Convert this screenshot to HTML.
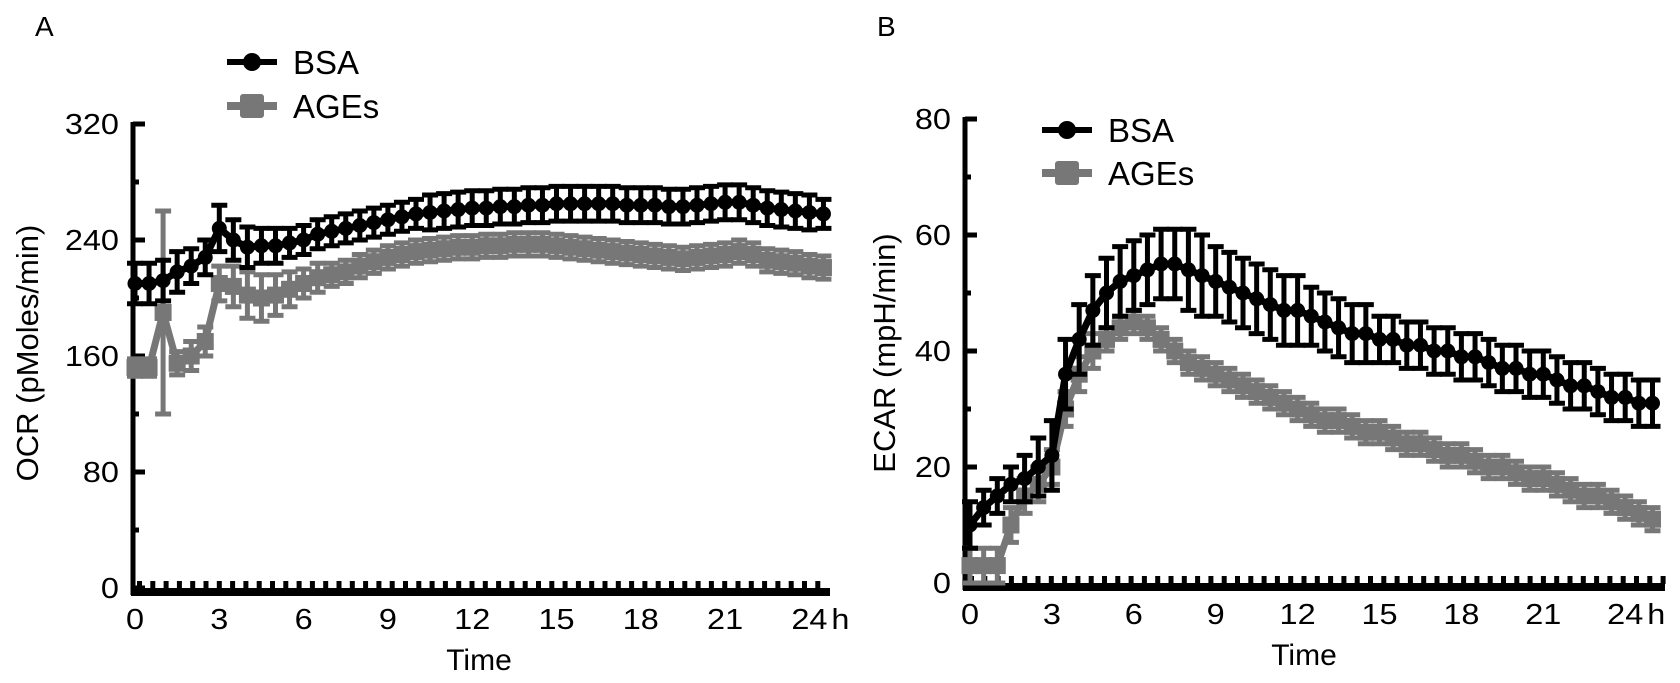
<!DOCTYPE html>
<html><head><meta charset="utf-8"><style>
html,body{margin:0;padding:0;background:#fff;}
svg{display:block;font-family:"Liberation Sans",Arial,sans-serif;}
</style></head><body>
<svg id="fig" width="1680" height="683" viewBox="0 0 1680 683">
<text x="35" y="36" font-size="28">A</text>
<text x="877" y="36" font-size="28">B</text>
<g id="pa"></g>
<g id="pb"></g>
</svg>
<script>
const timesA = [0,0.5,1,1.5,2,2.5,3,3.5,4,4.5,5,5.5,6,6.5,7,7.5,8,8.5,9,9.5,10,10.5,11,11.5,12,12.5,13,13.5,14,14.5,15,15.5,16,16.5,17,17.5,18,18.5,19,19.5,20,20.5,21,21.5,22,22.5,23,23.5,24,24.5];
const ocrBSA = [210,210,212,218,222,228,248,240,235,236,236,238,240,244,246,248,250,252,254,256,258,259,260,261,262,262,263,263,264,264,265,265,265,265,265,264,264,264,263,263,264,265,266,266,264,262,261,260,259,258];
const ocrBSAErr = [14,14,14,14,12,12,16,14,14,12,12,10,10,10,10,10,10,10,10,10,10,12,12,12,12,12,12,12,12,12,12,12,12,12,12,12,12,12,12,12,12,12,12,12,12,12,12,12,12,10];
const ocrAGE = [152,152,190,155,160,170,210,208,202,200,202,206,210,214,216,218,222,225,228,230,232,233,234,235,235,236,236,237,237,237,236,235,234,233,232,231,230,229,228,227,228,229,230,232,230,226,225,224,222,221];
const ocrAGEErr = [6,6,70,8,10,10,12,14,16,16,14,12,10,10,8,8,8,8,8,8,8,8,8,8,8,8,8,8,8,8,8,8,8,8,8,8,8,8,8,8,8,8,8,8,8,8,8,8,8,8];
const ticksA = [0,80,160,240,320];
const timesB = [0,0.5,1,1.5,2,2.5,3,3.5,4,4.5,5,5.5,6,6.5,7,7.5,8,8.5,9,9.5,10,10.5,11,11.5,12,12.5,13,13.5,14,14.5,15,15.5,16,16.5,17,17.5,18,18.5,19,19.5,20,20.5,21,21.5,22,22.5,23,23.5,24,24.5,25];
const ecarBSA = [10,13,15,17,18,20,22,36,42,47,50,52,53,54,55,55,54,53,52,51,50,49,48,47,47,46,45,44,43,43,42,42,41,41,40,40,39,39,38,37,37,36,36,35,34,34,33,32,32,31,31];
const ecarBSAErr = [4,3,3,3,4,5,6,6,6,6,6,6,6,6,6,6,7,7,6,6,6,6,6,6,6,5,5,5,5,5,4,4,4,4,4,4,4,4,4,4,4,4,4,4,4,4,4,4,4,4,4];
const ecarAGE = [3,3,3,10,15,17,20,30,36,40,42,44,45,44,42,40,38,37,36,35,34,33,32,31,30,29,28,28,27,26,26,25,24,24,23,22,22,21,20,20,19,18,18,17,16,15,15,14,13,12,11];
const ecarAGEErr = [3,3,3,3,3,3,3,3,3,3,2,2,2,2,2,2,2,2,2,2,2,2,2,2,2,2,2,2,2,2,2,2,2,2,2,2,2,2,2,2,2,2,2,2,2,2,2,2,2,2,2];
const ticksB = [0,20,40,60,80];
const xTicks = [0,3,6,9,12,15,18,21,24];

const NS = "http://www.w3.org/2000/svg";
function mk(parent, tag, attrs){ const e=document.createElementNS(NS,tag); for(const k in attrs) e.setAttribute(k,attrs[k]); parent.appendChild(e); return e; }

function panel(g, cfg){
  const X = t => cfg.x0 + cfg.px * t;
  const Y = v => cfg.y0 - cfg.py * v;
  const ya = mk(g,'line',{x1:cfg.ax,y1:Y(cfg.ymax)-2,x2:cfg.ax,y2:cfg.y0+7,stroke:'#000','stroke-width':5});
  
  
  cfg.yt.forEach((v,i)=>{
    const tk = mk(g,'line',{x1:cfg.ax,y1:Y(v),x2:cfg.ax+12,y2:Y(v),stroke:'#000','stroke-width':5});
    
    
    if(i<cfg.yt.length-1){
      const mt = mk(g,'line',{x1:cfg.ax,y1:Y((v+cfg.yt[i+1])/2),x2:cfg.ax+6,y2:Y((v+cfg.yt[i+1])/2),stroke:'#000','stroke-width':5});
      
      
    }
    const tl = mk(g,'text',{x:0,y:0,'font-size':29,'text-anchor':'end',transform:`translate(${cfg.ax-14},${Y(v)+10}) scale(1.12,1)`});
    tl.textContent=v;
    
    
  });
  const xa = mk(g,'rect',{x:cfg.ax-2,y:cfg.y0,width:cfg.xend-cfg.ax+2,height:8,fill:'#000'});
  
  
  for(let xx=cfg.ax+4; xx<cfg.xend-2; xx+=13.3){
    const t = mk(g,'rect',{x:xx,y:cfg.y0-7,width:5,height:8,fill:'#000'});
    
    
  }
  xTicks.forEach(t=>{
    const tl = mk(g,'text',{x:0,y:0,'font-size':29,'text-anchor':'middle',transform:`translate(${X(t)},${cfg.y0+41}) scale(1.12,1)`});
    tl.textContent = t;
    
    
  });
  const hl = mk(g,'text',{x:0,y:0,'font-size':29,transform:`translate(${X(24)+22},${cfg.y0+41}) scale(1.12,1)`});
  hl.textContent='h';
  
  
  const xt = mk(g,'text',{x:cfg.xtitle,y:cfg.y0+82,'font-size':30,'text-anchor':'middle'});
  xt.textContent='Time';
  
  
  const yt = mk(g,'text',{x:0,y:0,'font-size':31,'text-anchor':'middle',transform:`translate(${cfg.ytx},${cfg.yty}) rotate(-90)`});
  yt.textContent=cfg.ytitle;
  
  

  function series(times, vals, errs, color, shape, name){
    const sg = mk(g,'g',{});
    
    
    times.forEach((t,i)=>{
      const x=X(t), yt=Y(vals[i]+errs[i]), yb=Y(vals[i]-errs[i]);
      const eb = mk(sg,'path',{d:`M${x},${yt}V${yb}M${x-8},${yt}H${x+8}M${x-8},${yb}H${x+8}`,stroke:color,'stroke-width':5,fill:'none'});
      
      
    });
    const pl = mk(sg,'polyline',{points:times.map((t,i)=>X(t)+','+Y(vals[i])).join(' '),stroke:color,'stroke-width':7,fill:'none'});
    
    
    times.forEach((t,i)=>{
      let m;
      if(shape==='circle') m = mk(sg,'circle',{cx:X(t),cy:Y(vals[i]),r:7.5,fill:color});
      else m = mk(sg,'rect',{x:X(t)-8.5,y:Y(vals[i])-8.5,width:17,height:17,fill:color});
      
      
    });
  }
  series(cfg.tA, cfg.age, cfg.ageErr, '#777', 'square', 'ages');
  series(cfg.tA, cfg.bsa, cfg.bsaErr, '#000', 'circle', 'bsa');

  [[cfg.ly1,'#000','circle','BSA'],[cfg.ly2,'#777','square','AGEs']].forEach(([ly,c,s,lab])=>{
    const lg = mk(g,'g',{});
    
    
    mk(lg,'line',{x1:cfg.lx,y1:ly,x2:cfg.lx+50,y2:ly,stroke:c,'stroke-width':s==='circle'?6:8});
    if(s==='circle') mk(lg,'circle',{cx:cfg.lx+25,cy:ly,r:9,fill:c});
    else mk(lg,'rect',{x:cfg.lx+13,y:ly-12,width:24,height:24,rx:3,fill:c});
    const t = mk(lg,'text',{x:cfg.lx+66,y:ly+12,'font-size':33});
    t.textContent=lab;
  });
}

panel(document.getElementById('pa'), {x0:135,px:28.1,y0:588,py:1.45,ax:133,xend:830,ymax:320,yt:ticksA,
  tA:timesA,bsa:ocrBSA,bsaErr:ocrBSAErr,age:ocrAGE,ageErr:ocrAGEErr,
  xtitle:479,ytx:38,yty:353,ytitle:'OCR (pMoles/min)',lx:227,ly1:62,ly2:106});
panel(document.getElementById('pb'), {x0:970,px:27.3,y0:583,py:5.8,ax:965,xend:1665,ymax:80,yt:ticksB,
  tA:timesB,bsa:ecarBSA,bsaErr:ecarBSAErr,age:ecarAGE,ageErr:ecarAGEErr,
  xtitle:1304,ytx:895,yty:353,ytitle:'ECAR (mpH/min)',lx:1042,ly1:130,ly2:173});
</script>
</body></html>
